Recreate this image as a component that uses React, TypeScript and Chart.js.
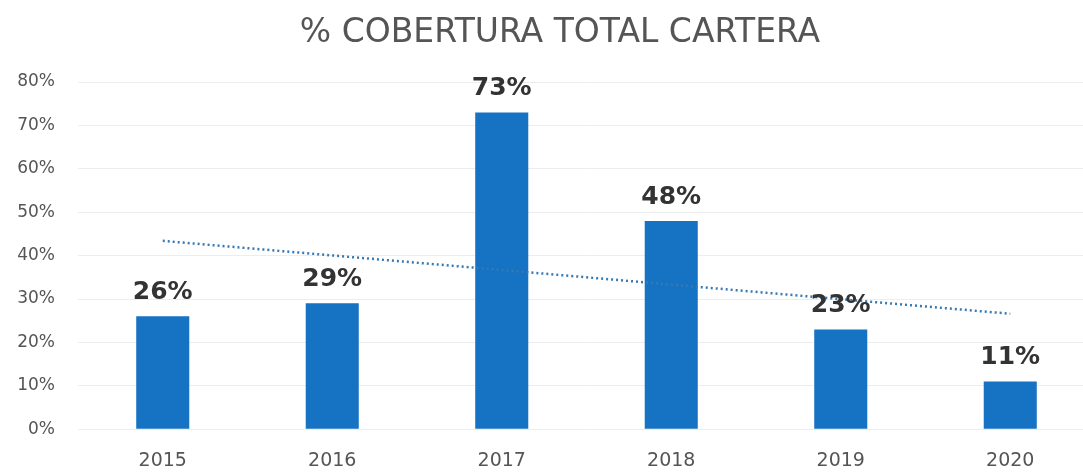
import React, { useEffect, useRef } from "react";
import { Chart, registerables } from "chart.js";

Chart.register(...registerables);

const categories = ["2015", "2016", "2017", "2018", "2019", "2020"];
const coverage = [26, 29, 73, 48, 23, 11];
const trend = [43.4, null, null, null, null, 26.6];
const yTicks = [0, 10, 20, 30, 40, 50, 60, 70, 80];
const titleText = "% COBERTURA TOTAL CARTERA";

const FONT = "'DejaVu Sans', sans-serif";

const labelPlugin = {
  id: "barLabels",
  afterDatasetsDraw(chart: any) {
    const meta = chart.getDatasetMeta(0);
    const ctx = chart.ctx;
    ctx.save();
    ctx.font = `bold 25px ${FONT}`;
    ctx.fillStyle = "#333333";
    ctx.textAlign = "center";
    ctx.textBaseline = "alphabetic";
    meta.data.forEach((el: any, i: number) => {
      ctx.fillText(`${coverage[i]}%`, el.x, el.y - 17);
    });
    ctx.restore();
  },
};

const titlePlugin = {
  id: "chartTitle",
  afterDraw(chart: any) {
    const ctx = chart.ctx;
    ctx.save();
    ctx.font = `normal 33px ${FONT}`;
    ctx.fillStyle = "#555555";
    ctx.textAlign = "center";
    ctx.textBaseline = "middle";
    ctx.fillText(titleText, 560, 33);
    ctx.restore();
  },
};

export default function App() {
  const ref = useRef<HTMLCanvasElement | null>(null);
  useEffect(() => {
    document.body.style.margin = "0";
    const chart = new Chart(ref.current as HTMLCanvasElement, {
      type: "bar",
      data: {
        labels: categories,
        datasets: [
          {
            type: "bar",
            data: coverage,
            backgroundColor: "#1672c2",
            categoryPercentage: 1,
            barPercentage: 0.313,
            order: 1,
          },
          {
            type: "line",
            data: trend as any,
            spanGaps: true,
            borderColor: "#3579b5",
            borderWidth: 2.5,
            borderDash: [2, 3],
            pointRadius: 0,
            fill: false,
            order: 0,
          } as any,
        ],
      },
      options: {
        animation: false,
        responsive: false,
        layout: { padding: { left: 0, right: 25, top: 82, bottom: 0 } },
        plugins: {
          legend: { display: false },
          tooltip: { enabled: false },
          title: { display: false },
        },
        scales: {
          x: {
            grid: { display: false, tickLength: 20 },
            border: { display: false },
            ticks: {
              color: "#555555",
              font: { family: FONT, size: 19 },
              padding: 0,
            },
          },
          y: {
            min: 0,
            max: 80,
            afterFit: (scale: any) => {
              scale.width = 78;
            },
            afterBuildTicks: (scale: any) => {
              scale.ticks = yTicks.map((v) => ({ value: v }));
            },
            grid: { color: "#ededed", drawTicks: false },
            border: { display: false },
            ticks: {
              color: "#555555",
              font: { family: FONT, size: 17 },
              padding: 23,
              callback: (v: any) => `${v}%`,
            },
          },
        },
      },
      plugins: [labelPlugin, titlePlugin],
    });
    return () => chart.destroy();
  }, []);
  return (
    <div style={{ width: 1083, height: 472, overflow: "hidden" }}>
      <canvas ref={ref} width={1120} height={472} style={{ width: 1120, height: 472, display: "block" }} />
    </div>
  );
}
